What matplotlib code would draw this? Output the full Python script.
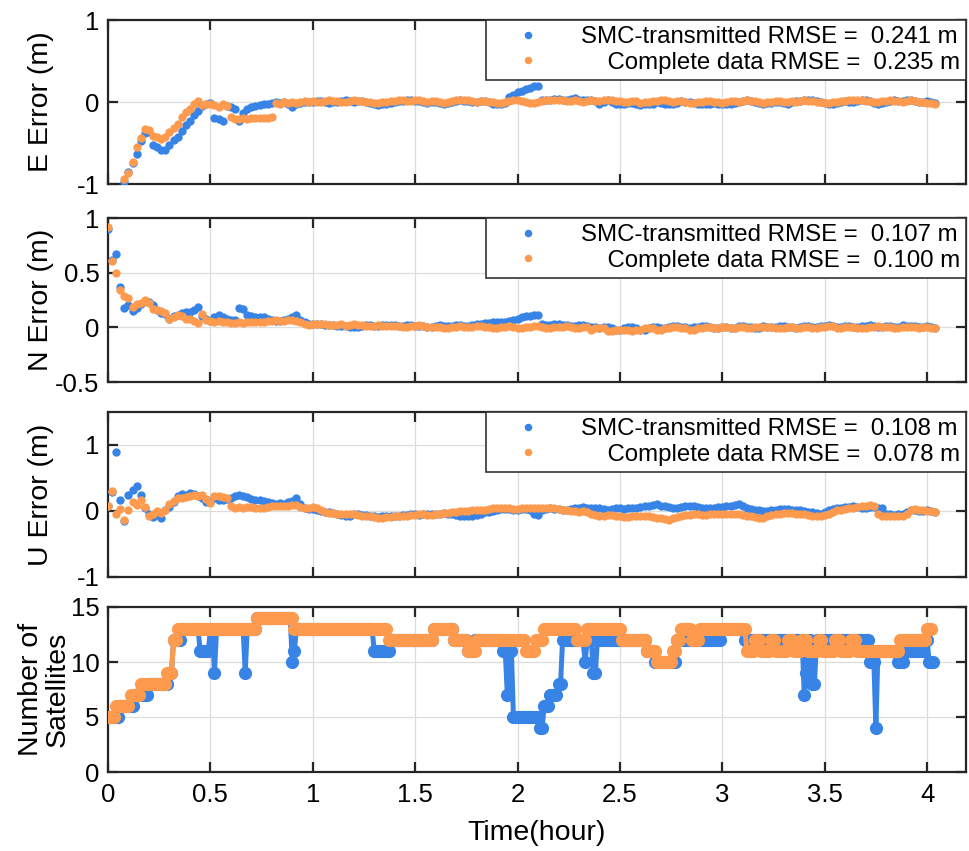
import numpy as np
import matplotlib
matplotlib.use('Agg')
import matplotlib.pyplot as plt
from matplotlib.ticker import FuncFormatter

plt.rcParams['font.family'] = ['Liberation Sans', 'DejaVu Sans']
plt.rcParams['axes.unicode_minus'] = False

# ---------------- data ----------------
# epoch times (hour), one epoch every 0.02 h
t_err = np.round(np.arange(0, 4.05, 0.02), 2)

e_smc = [
    -1.5, -1.4, -1.3, -1.15, -0.97, -0.85, -0.74, -0.64, -0.48, -0.38,
    -0.36, -0.52, -0.55, -0.58, -0.58, -0.52, -0.46, -0.43, -0.35, -0.28,
    -0.23, -0.16, -0.11, -0.05, -0.02, -0.01, -0.19, -0.21, -0.23, -0.05,
    -0.06, -0.09, -0.23, -0.14, -0.09, -0.06, -0.05, -0.04, -0.03, -0.02,
    -0.01, 0.00, -0.01, 0.00, -0.02, -0.06, -0.02, -0.01, 0.00, 0.00,
    0.00, 0.01, 0.01, 0.00, -0.01, 0.00, 0.00, 0.01, 0.02, 0.01,
    0.00, 0.01, 0.01, 0.00, -0.01, -0.02, -0.04, -0.03, -0.02, -0.01,
    0.00, 0.01, 0.01, 0.02, 0.02, 0.01, 0.01, 0.00, -0.01, 0.00,
    0.00, -0.01, -0.02, -0.01, 0.00, 0.01, 0.02, 0.01, 0.01, 0.00,
    0.00, 0.01, 0.01, 0.00, -0.03, -0.02, -0.02, -0.01, 0.06, 0.09,
    0.12, 0.14, 0.16, 0.17, 0.19, 0.20, 0.02, 0.03, 0.03, 0.04,
    0.04, 0.03, 0.03, 0.04, 0.05, 0.03, 0.02, 0.03, 0.03, 0.01,
    -0.02, 0.00, 0.02, 0.00, -0.03, -0.02, -0.02, -0.01, -0.01, -0.02,
    -0.04, -0.03, -0.03, -0.02, 0.00, -0.01, -0.02, -0.03, -0.03, -0.01,
    0.01, 0.00, 0.00, -0.01, -0.02, -0.03, -0.03, -0.02, -0.01, -0.02,
    -0.02, -0.03, -0.03, -0.01, 0.00, 0.01, 0.02, 0.01, 0.00, -0.01,
    -0.02, -0.01, -0.01, 0.00, 0.00, -0.01, -0.02, 0.00, 0.01, 0.01,
    0.02, 0.02, 0.03, 0.01, 0.00, -0.01, -0.02, -0.02, -0.01, 0.00,
    0.01, 0.00, 0.00, 0.01, 0.02, 0.02, 0.01, -0.01, -0.02, -0.01,
    0.00, 0.01, 0.02, 0.01, 0.01, 0.02, 0.03, 0.01, 0.00, 0.00,
    0.01, 0.00, -0.01]
e_full = [
    -1.5, -1.35, -1.25, -1.1, -0.94, -0.87, -0.73, -0.55, -0.44, -0.33,
    -0.34, -0.41, -0.43, -0.45, -0.43, -0.37, -0.32, -0.27, -0.18, -0.12,
    -0.08, -0.03, 0.01, -0.04, -0.03, -0.02, -0.04, -0.06, -0.03, -0.05,
    -0.18, -0.21, -0.21, -0.20, -0.21, -0.20, -0.20, -0.19, -0.20, -0.19,
    -0.18, -0.01, -0.02, 0.00, -0.01, 0.00, -0.01, 0.00, 0.01, 0.00,
    0.01, 0.00, 0.00, 0.01, 0.02, 0.01, 0.01, 0.00, 0.00, 0.01,
    0.02, 0.01, 0.01, 0.00, 0.00, -0.01, -0.01, 0.00, 0.00, 0.01,
    0.01, 0.02, 0.02, 0.01, 0.01, 0.02, 0.02, 0.01, 0.00, 0.01,
    0.01, 0.00, -0.01, 0.00, 0.01, 0.02, 0.03, 0.02, 0.02, 0.01,
    0.00, 0.01, 0.01, 0.00, 0.00, -0.01, -0.01, 0.00, 0.01, 0.02,
    0.02, 0.01, 0.00, -0.01, -0.01, 0.00, 0.01, 0.02, 0.02, 0.03,
    0.03, 0.02, 0.01, 0.01, 0.02, 0.01, 0.00, 0.01, 0.02, 0.01,
    0.01, 0.02, 0.03, 0.02, 0.01, 0.01, 0.00, 0.00, 0.01, 0.01,
    -0.01, 0.00, 0.00, 0.01, 0.01, 0.02, 0.02, 0.01, 0.00, 0.01,
    0.01, 0.00, -0.01, -0.01, 0.00, 0.00, 0.01, 0.01, 0.00, 0.00,
    -0.01, 0.00, 0.01, 0.01, 0.00, 0.01, 0.02, 0.01, 0.01, 0.00,
    -0.01, 0.00, 0.00, 0.01, 0.01, 0.00, 0.00, 0.01, 0.00, 0.01,
    0.02, 0.01, 0.01, 0.00, 0.00, -0.01, -0.01, 0.00, 0.00, 0.01,
    0.01, 0.02, 0.03, 0.02, 0.02, 0.01, 0.01, 0.00, 0.00, 0.01,
    0.01, 0.02, 0.01, 0.01, 0.00, 0.01, 0.02, 0.01, 0.00, 0.00,
    -0.01, -0.01, -0.02]

n_smc = [
    0.90, 0.62, 0.67, 0.37, 0.18, 0.20, 0.15, 0.18, 0.21, 0.24,
    0.23, 0.20, 0.16, 0.13, 0.12, 0.08, 0.10, 0.11, 0.13, 0.14,
    0.14, 0.16, 0.19, 0.10, 0.08, 0.06, 0.09, 0.11, 0.09, 0.08,
    0.07, 0.07, 0.18, 0.17, 0.11, 0.10, 0.09, 0.09, 0.09, 0.08,
    0.07, 0.06, 0.06, 0.07, 0.08, 0.09, 0.11, 0.07, 0.05, 0.03,
    0.03, 0.03, 0.03, 0.02, 0.02, 0.02, 0.01, 0.01, 0.01, 0.00,
    0.00, 0.00, 0.01, 0.02, 0.02, 0.01, 0.01, 0.02, 0.02, 0.02,
    0.02, 0.01, 0.01, 0.02, 0.02, 0.01, 0.01, 0.01, 0.00, 0.00,
    0.01, 0.02, 0.01, 0.01, 0.01, 0.02, 0.02, 0.01, 0.01, 0.02,
    0.03, 0.03, 0.04, 0.04, 0.05, 0.05, 0.05, 0.05, 0.06, 0.07,
    0.08, 0.09, 0.10, 0.10, 0.11, 0.11, 0.03, 0.02, 0.02, 0.03,
    0.03, 0.02, 0.02, 0.01, 0.01, 0.02, 0.02, 0.01, 0.00, 0.00,
    -0.01, 0.00, 0.00, -0.01, -0.02, -0.02, -0.01, 0.00, 0.00, -0.01,
    -0.02, -0.02, -0.01, 0.00, 0.00, -0.01, -0.01, 0.00, 0.01, 0.01,
    0.00, 0.00, -0.01, 0.00, 0.00, 0.01, 0.01, 0.00, -0.01, -0.01,
    0.00, 0.00, -0.01, -0.01, 0.01, 0.01, 0.00, 0.00, -0.01, -0.01,
    0.01, 0.00, 0.00, 0.00, 0.01, 0.01, 0.00, 0.00, -0.01, 0.00,
    0.01, 0.01, 0.00, 0.00, 0.01, 0.01, 0.02, 0.01, 0.00, 0.00,
    0.01, 0.01, 0.00, 0.00, 0.01, 0.01, 0.02, 0.01, 0.00, 0.00,
    0.01, 0.01, 0.00, 0.00, 0.02, 0.01, 0.01, 0.01, 0.00, 0.00,
    0.01, 0.00, -0.01]
n_full = [
    0.915, 0.61, 0.50, 0.34, 0.29, 0.27, 0.19, 0.21, 0.22, 0.25,
    0.22, 0.17, 0.16, 0.15, 0.13, 0.08, 0.09, 0.11, 0.10, 0.08,
    0.08, 0.06, 0.04, 0.12, 0.07, 0.06, 0.05, 0.06, 0.05, 0.05,
    0.04, 0.04, 0.05, 0.04, 0.05, 0.05, 0.05, 0.05, 0.05, 0.06,
    0.06, 0.07, 0.06, 0.06, 0.07, 0.07, 0.06, 0.05, 0.03, 0.02,
    0.03, 0.03, 0.03, 0.03, 0.02, 0.02, 0.02, 0.03, 0.01, 0.02,
    0.03, 0.02, 0.02, 0.01, 0.01, 0.01, 0.02, 0.01, 0.01, 0.01,
    0.01, 0.01, 0.00, 0.00, 0.01, 0.01, 0.02, 0.01, 0.00, 0.00,
    0.00, 0.00, -0.01, -0.01, 0.00, 0.00, 0.01, 0.00, 0.00, 0.00,
    0.01, 0.01, 0.00, 0.00, -0.01, -0.01, 0.00, 0.00, 0.01, 0.00,
    -0.01, -0.01, 0.00, 0.00, 0.01, 0.01, 0.00, -0.01, -0.01, 0.00,
    0.00, 0.00, 0.01, 0.00, -0.01, -0.01, 0.00, 0.00, -0.02, -0.01,
    -0.01, -0.01, -0.03, -0.03, -0.02, -0.02, -0.02, -0.02, -0.03, -0.02,
    -0.02, -0.01, -0.01, -0.01, -0.02, -0.02, -0.01, -0.01, 0.00, 0.00,
    -0.01, -0.01, -0.02, -0.02, -0.01, -0.01, 0.00, 0.00, -0.01, -0.01,
    0.00, 0.00, -0.01, -0.01, 0.00, 0.00, -0.01, -0.01, 0.00, 0.00,
    0.00, 0.00, 0.00, -0.01, -0.01, -0.01, 0.00, 0.00, -0.01, -0.01,
    0.00, 0.00, -0.01, -0.01, 0.00, 0.00, 0.01, 0.01, -0.01, -0.01,
    0.00, 0.00, 0.00, -0.01, -0.01, -0.01, 0.00, 0.00, 0.01, 0.00,
    0.00, 0.00, -0.01, -0.01, 0.00, 0.00, 0.00, 0.00, -0.01, 0.00,
    0.00, -0.01, -0.01]

u_smc = [
    0.07, 0.29, 0.89, 0.17, -0.15, 0.25, 0.32, 0.38, 0.24, 0.05,
    -0.05, -0.09, -0.06, -0.11, 0.02, 0.06, 0.14, 0.22, 0.26, 0.25,
    0.27, 0.26, 0.23, 0.20, 0.13, 0.14, 0.19, 0.17, 0.16, 0.18,
    0.20, 0.22, 0.25, 0.22, 0.21, 0.18, 0.17, 0.16, 0.15, 0.13,
    0.12, 0.11, 0.12, 0.11, 0.14, 0.15, 0.19, 0.10, 0.05, 0.03,
    0.03, 0.02, 0.00, -0.01, -0.02, -0.03, -0.04, -0.06, -0.08, -0.07,
    -0.05, -0.05, -0.06, -0.06, -0.07, -0.08, -0.09, -0.08, -0.07, -0.07,
    -0.08, -0.07, -0.06, -0.06, -0.05, -0.05, -0.06, -0.05, -0.04, -0.04,
    -0.05, -0.04, -0.03, -0.04, -0.05, -0.06, -0.07, -0.07, -0.08, -0.07,
    -0.06, -0.04, -0.02, -0.01, 0.00, 0.02, 0.03, 0.03, 0.03, 0.02,
    0.02, 0.03, 0.03, 0.01, -0.05, -0.06, 0.02, 0.03, 0.04, 0.03,
    0.03, 0.02, 0.02, 0.03, 0.04, 0.05, 0.06, 0.05, 0.05, 0.04,
    0.04, 0.03, 0.02, 0.03, 0.04, 0.04, 0.03, 0.04, 0.05, 0.05,
    0.06, 0.07, 0.08, 0.09, 0.10, 0.08, 0.07, 0.06, 0.05, 0.05,
    0.06, 0.07, 0.08, 0.07, 0.06, 0.05, 0.04, 0.05, 0.05, 0.06,
    0.06, 0.07, 0.08, 0.09, 0.10, 0.08, 0.05, 0.03, 0.02, 0.01,
    0.00, 0.00, 0.01, 0.02, 0.03, 0.03, 0.03, 0.02, 0.02, 0.01,
    0.00, -0.01, -0.02, -0.03, -0.04, -0.01, 0.01, 0.03, 0.04, 0.05,
    0.06, 0.06, 0.07, 0.06, 0.05, 0.05, 0.06, 0.06, 0.05, 0.05,
    -0.05, -0.05, -0.06, -0.05, -0.04, -0.01, 0.02, 0.01, 0.00, 0.00,
    0.01, 0.00, -0.01]
u_full = [
    0.08, 0.30, -0.04, 0.03, -0.13, 0.02, 0.13, 0.09, 0.16, 0.06,
    -0.08, -0.04, 0.00, -0.03, 0.02, 0.10, 0.15, 0.20, 0.19, 0.21,
    0.22, 0.24, 0.23, 0.25, 0.18, 0.12, 0.22, 0.23, 0.21, 0.20,
    0.08, 0.05, 0.06, 0.05, 0.06, 0.06, 0.05, 0.04, 0.04, 0.06,
    0.07, 0.08, 0.08, 0.07, 0.08, 0.09, 0.09, 0.06, 0.04, 0.05,
    0.06, 0.04, 0.01, -0.01, -0.03, -0.03, -0.04, -0.05, -0.05, -0.05,
    -0.05, -0.06, -0.07, -0.07, -0.08, -0.09, -0.10, -0.10, -0.09, -0.09,
    -0.08, -0.08, -0.07, -0.07, -0.06, -0.06, -0.05, -0.05, -0.06, -0.06,
    -0.04, -0.04, -0.03, -0.03, -0.02, -0.01, 0.00, 0.00, 0.00, 0.01,
    0.01, 0.02, 0.02, 0.03, 0.04, 0.05, 0.05, 0.04, 0.04, 0.03,
    0.03, 0.04, 0.05, 0.05, 0.05, 0.04, 0.05, 0.05, 0.05, 0.04,
    0.03, 0.02, 0.01, 0.00, 0.00, -0.01, 0.00, -0.02, -0.04, -0.06,
    -0.08, -0.07, -0.06, -0.06, -0.07, -0.08, -0.09, -0.09, -0.08, -0.08,
    -0.07, -0.08, -0.08, -0.09, -0.10, -0.11, -0.12, -0.13, -0.11, -0.09,
    -0.07, -0.06, -0.06, -0.05, -0.05, -0.06, -0.06, -0.05, -0.04, -0.04,
    -0.05, -0.04, -0.04, -0.05, -0.05, -0.06, -0.07, -0.08, -0.09, -0.10,
    -0.10, -0.08, -0.06, -0.05, -0.04, -0.03, -0.03, -0.03, -0.04, -0.04,
    -0.05, -0.06, -0.07, -0.08, -0.08, -0.06, -0.04, -0.01, 0.01, 0.02,
    0.03, 0.04, 0.05, 0.06, 0.07, 0.08, 0.09, 0.08, -0.05, -0.08,
    -0.08, -0.07, -0.08, -0.08, -0.07, -0.04, 0.01, 0.03, 0.02, 0.01,
    0.00, 0.00, -0.01]

# number of satellites, one epoch every 0.01 h, stored as (value, run length)
sat_smc_runs = [(5, 6), (6, 7), (7, 7), (8, 10), (9, 2), (12, 4), (13, 9), (11, 5),
                (13, 2), (9, 1), (13, 14), (9, 1), (13, 5), (14, 17), (10, 1), (11, 1),
                (13, 38), (11, 8), (12, 21), (13, 10), (12, 7), (11, 3), (12, 14), (11, 2),
                (7, 1), (11, 2), (5, 13), (4, 2), (6, 3), (7, 4), (8, 2), (12, 11),
                (10, 1), (12, 3), (9, 2), (12, 24), (11, 4), (10, 11), (12, 22), (13, 11),
                (12, 29), (7, 1), (9, 1), (12, 2), (8, 2), (12, 26), (10, 3), (4, 1),
                (11, 10), (10, 3), (11, 10), (12, 2), (10, 3)]
sat_full_runs = [(5, 4), (6, 7), (7, 5), (8, 13), (9, 3), (12, 2), (13, 39), (14, 18),
                 (13, 46), (12, 22), (13, 10), (12, 7), (11, 4), (12, 24), (11, 5), (12, 4),
                 (13, 16), (12, 5), (13, 17), (12, 12), (11, 5), (10, 8), (11, 2), (12, 2),
                 (13, 5), (12, 4), (13, 23),
                 (11, 4), (12, 3), (11, 5), (12, 2), (11, 6), (12, 3), (11, 4), (12, 3),
                 (11, 5), (12, 2), (11, 6), (12, 3), (11, 5), (12, 3), (11, 6),
                 (11, 15), (12, 13), (13, 3)]
sat_dt = 0.01

rmse_labels = [("0.241", "0.235"), ("0.107", "0.100"), ("0.108", "0.078")]
ylabels = ["E Error (m)", "N Error (m)", "U Error (m)", "Number of\nSatellites"]

BLUE = '#3784E6'
ORANGE = '#FE9A4E'
SPINE = '#262626'


def expand(runs):
    vals = np.repeat([v for v, n in runs], [n for v, n in runs]).astype(float)
    return np.arange(len(vals)) * sat_dt, vals


# ---------------- figure ----------------
fig = plt.figure(figsize=(9.70, 8.51), dpi=100)
W, H = 970.0, 851.0
left, right = 108 / W, 966 / W
boxes = [(20, 184), (218, 382), (412, 577), (607, 772)]
axes = [fig.add_axes([left, 1 - b / H, right - left, (b - t) / H]) for t, b in boxes]

FS = 18.5
LFS = 20.5
fmt = FuncFormatter(lambda v, p: '%g' % v)

series = [(e_smc, e_full), (n_smc, n_full), (u_smc, u_full)]
ylims = [(-1, 1), (-0.5, 1), (-1, 1.5)]
yticks = [[-1, 0, 1], [-0.5, 0, 0.5, 1], [-1, 0, 1]]

for i, ax in enumerate(axes):
    ax.set_xlim(0, 4.19)
    ax.set_xticks(np.arange(0, 4.01, 0.5))
    ax.xaxis.set_major_formatter(fmt)
    ax.yaxis.set_major_formatter(fmt)
    ax.grid(True, color='#DDDDDD', linewidth=0.9)
    ax.set_axisbelow(True)
    for s in ax.spines.values():
        s.set_color(SPINE)
        s.set_linewidth(1.6)
    ax.tick_params(direction='in', length=7.5, width=1.6, color=SPINE,
                   top=True, right=True, labelsize=FS)
    ax.tick_params(axis='y', pad=6)
    ax.tick_params(axis='x', pad=8)
    if i < 3:
        ax.tick_params(labelbottom=False)
    ax.set_ylabel(ylabels[i], fontsize=LFS, linespacing=1.0)
    ax.yaxis.set_label_coords(-0.063, 0.5)

for i in range(3):
    ax = axes[i]
    smc, full = series[i]
    ax.plot(t_err, smc, 'o', color=BLUE, markersize=6.0, markeredgewidth=0, zorder=3,
            label='SMC-transmitted RMSE =  %s m' % rmse_labels[i][0])
    ax.plot(t_err, full, 'o', color=ORANGE, markersize=6.0, markeredgewidth=0, zorder=4,
            label='    Complete data RMSE =  %s m' % rmse_labels[i][1])
    ax.set_ylim(*ylims[i])
    ax.set_yticks(yticks[i])
    leg = ax.legend(loc='upper right', borderaxespad=0, fontsize=17.3,
                    fancybox=False, framealpha=1, edgecolor='#333333',
                    handlelength=3.0, handletextpad=0.7, labelspacing=0.15,
                    borderpad=0.25, markerscale=0.9)
    leg.get_frame().set_linewidth(1.2)
    leg.set_zorder(10)

ax = axes[3]
ts, vs = expand(sat_smc_runs)
ax.plot(ts, vs, '-o', color=BLUE, linewidth=3.6, markersize=9.5, markeredgewidth=0, zorder=3)
ts, vs = expand(sat_full_runs)
ax.plot(ts, vs, '-o', color=ORANGE, linewidth=3.6, markersize=9.5, markeredgewidth=0, zorder=4)
ax.set_ylim(0, 15)
ax.set_yticks([0, 5, 10, 15])
ax.yaxis.set_label_coords(-0.044, 0.5)
ax.set_xlabel('Time(hour)', fontsize=LFS, labelpad=9)

fig.savefig('out.png', dpi=100)
